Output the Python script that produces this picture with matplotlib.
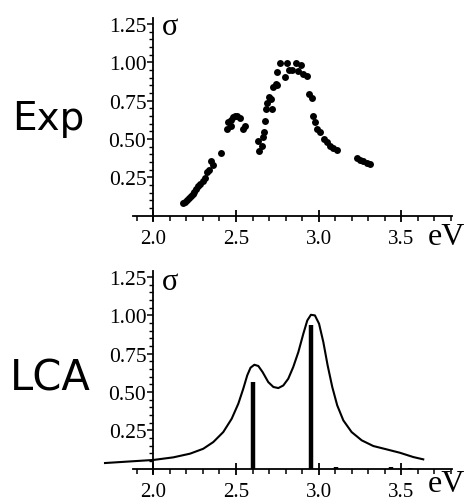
import matplotlib
matplotlib.use("Agg")
import matplotlib.pyplot as plt
from matplotlib.ticker import FixedLocator, NullFormatter, FixedFormatter

# ---------------- data ----------------
exp_ev = [2.177, 2.191, 2.206, 2.218, 2.226, 2.238, 2.248, 2.258, 2.272, 2.282,
          2.298, 2.312, 2.326, 2.339, 2.349, 2.363, 2.407, 2.443, 2.453, 2.468,
          2.480, 2.494, 2.508, 2.524, 2.540, 2.554, 2.468,
          2.635, 2.641, 2.655, 2.665, 2.669, 2.675, 2.681, 2.689, 2.699, 2.709,
          2.715, 2.726, 2.740, 2.750, 2.746, 2.766, 2.796, 2.810, 2.820, 2.836,
          2.861, 2.877, 2.893, 2.907, 2.927, 2.943, 2.957, 2.967, 2.977, 2.992,
          3.008, 3.032, 3.048, 3.068, 3.088, 3.112, 3.229, 3.250, 3.270, 3.290,
          3.310]
exp_sigma = [0.083, 0.091, 0.102, 0.113, 0.126, 0.141, 0.157, 0.174, 0.191, 0.207,
             0.228, 0.246, 0.283, 0.300, 0.359, 0.333, 0.409, 0.565, 0.609, 0.626,
             0.641, 0.652, 0.648, 0.635, 0.565, 0.587, 0.587,
             0.489, 0.424, 0.457, 0.511, 0.543, 0.620, 0.696, 0.735, 0.772, 0.761,
             0.696, 0.837, 0.859, 0.852, 0.935, 0.993, 0.902, 0.993, 0.952, 0.952,
             0.993, 0.946, 0.983, 0.924, 0.913, 0.793, 0.765, 0.648, 0.609, 0.565,
             0.543, 0.500, 0.478, 0.452, 0.439, 0.430, 0.374, 0.365, 0.354, 0.343,
             0.337]

lca_ev = [1.708, 1.839, 2.0, 2.121, 2.222, 2.302, 2.363, 2.423, 2.474, 2.514,
          2.544, 2.568, 2.588, 2.611, 2.635, 2.661, 2.695, 2.726, 2.756, 2.786,
          2.816, 2.846, 2.877, 2.907, 2.931, 2.953, 2.977, 3.002, 3.028, 3.054,
          3.082, 3.112, 3.149, 3.199, 3.26, 3.33, 3.411, 3.491, 3.572, 3.632]
lca_sigma = [0.037, 0.046, 0.057, 0.074, 0.098, 0.130, 0.174, 0.239, 0.326, 0.424,
             0.522, 0.609, 0.659, 0.678, 0.670, 0.630, 0.565, 0.533, 0.526, 0.543,
             0.587, 0.663, 0.761, 0.880, 0.967, 1.004, 1.000, 0.946, 0.826, 0.674,
             0.533, 0.413, 0.315, 0.239, 0.185, 0.148, 0.126, 0.104, 0.076, 0.061]

bar_ev = [2.603, 2.953, 3.105, 3.44, 3.55]
bar_sigma = [0.565, 0.935, 0.008, 0.010, 0.005]

x_major = [2.0, 2.5, 3.0, 3.5]
x_major_labels = ["2.0", "2.5", "3.0", "3.5"]
x_minor = [1.9, 2.1, 2.2, 2.3, 2.4, 2.6, 2.7, 2.8, 2.9, 3.1, 3.2, 3.3, 3.4,
           3.6, 3.7, 3.8]
y_major = [0.25, 0.50, 0.75, 1.00, 1.25]
y_major_labels = ["0.25", "0.50", "0.75", "1.00", "1.25"]
y_minor = [0.05, 0.10, 0.15, 0.20, 0.30, 0.35, 0.40, 0.45, 0.55, 0.60, 0.65,
           0.70, 0.80, 0.85, 0.90, 0.95, 1.05, 1.10, 1.15, 1.20]

# ---------------- layout ----------------
W, H = 471, 502
fig = plt.figure(figsize=(W / 100, H / 100), dpi=100)

X0PX = 153.3      # pixel of 2.0 eV
XSC = 165.4       # px per eV
YSC = 153.3       # px per sigma unit
SERIF = ["Liberation Serif", "DejaVu Serif"]


def make_axes(y0px, top_px, bot_px, left_px=98, right_px=460):
    ax = fig.add_axes([left_px / W, 1 - bot_px / H,
                       (right_px - left_px) / W, (bot_px - top_px) / H])
    ax.set_xlim(2 + (left_px - X0PX) / XSC, 2 + (right_px - X0PX) / XSC)
    ax.set_ylim((y0px - bot_px) / YSC, (y0px - top_px) / YSC)
    ax.patch.set_visible(False)
    for s in ("top", "right"):
        ax.spines[s].set_visible(False)
    ax.spines["left"].set_position(("data", 2.0))
    ax.spines["bottom"].set_position(("data", 0.0))
    ax.spines["left"].set_bounds(-0.03, 1.29)
    ax.spines["bottom"].set_bounds(1.879, 3.808)
    for s in ("left", "bottom"):
        ax.spines[s].set_linewidth(1.3)
    ax.xaxis.set_major_locator(FixedLocator(x_major))
    ax.xaxis.set_major_formatter(FixedFormatter(x_major_labels))
    ax.xaxis.set_minor_locator(FixedLocator(x_minor))
    ax.xaxis.set_minor_formatter(NullFormatter())
    ax.yaxis.set_major_locator(FixedLocator(y_major))
    ax.yaxis.set_major_formatter(FixedFormatter(y_major_labels))
    ax.yaxis.set_minor_locator(FixedLocator(y_minor))
    ax.yaxis.set_minor_formatter(NullFormatter())
    ax.tick_params(axis="x", which="major", direction="inout", length=9,
                   width=1.3, pad=5)
    ax.tick_params(axis="x", which="minor", direction="out", length=3.5,
                   width=1.1)
    ax.tick_params(axis="y", which="major", direction="out", length=4,
                   width=1.1, pad=1.0)
    ax.tick_params(axis="y", which="minor", direction="out", length=3,
                   width=1.0)
    for lab in ax.get_xticklabels():
        lab.set_family(SERIF)
        lab.set_fontsize(15)
    for lab in ax.get_yticklabels():
        lab.set_family(SERIF)
        lab.set_fontsize(15.5)
    return ax


# top panel
ax1 = make_axes(216.7, 10, 228)
ax1.plot(exp_ev, exp_sigma, linestyle="none", marker="o", markersize=5,
         color="black", markeredgewidth=0)
# bottom panel
ax2 = make_axes(469.7, 265, 480)
ax2.plot(lca_ev, lca_sigma, color="black", linewidth=1.5)
ax2.vlines(bar_ev, 0, bar_sigma, color="black", linewidth=3.2)

# labels (pixel coordinates converted to figure fraction)
def ftext(xpx, ypx, s, **kw):
    fig.text(xpx / W, 1 - ypx / H, s, **kw)

ftext(428, 245, "eV", family=SERIF, fontsize=23, va="baseline", ha="left")
ftext(428, 492, "eV", family=SERIF, fontsize=23, va="baseline", ha="left")
ftext(162, 35, "σ", family=SERIF, fontsize=22, va="baseline", ha="left")
ftext(162, 290, "σ", family=SERIF, fontsize=22, va="baseline", ha="left")

ftext(12, 130, "Exp", family="DejaVu Sans", fontsize=28, va="baseline",
      ha="left")
ftext(10, 391, "LCA", family="DejaVu Sans", fontsize=30, va="baseline",
      ha="left")

fig.savefig("out.png", dpi=100)
